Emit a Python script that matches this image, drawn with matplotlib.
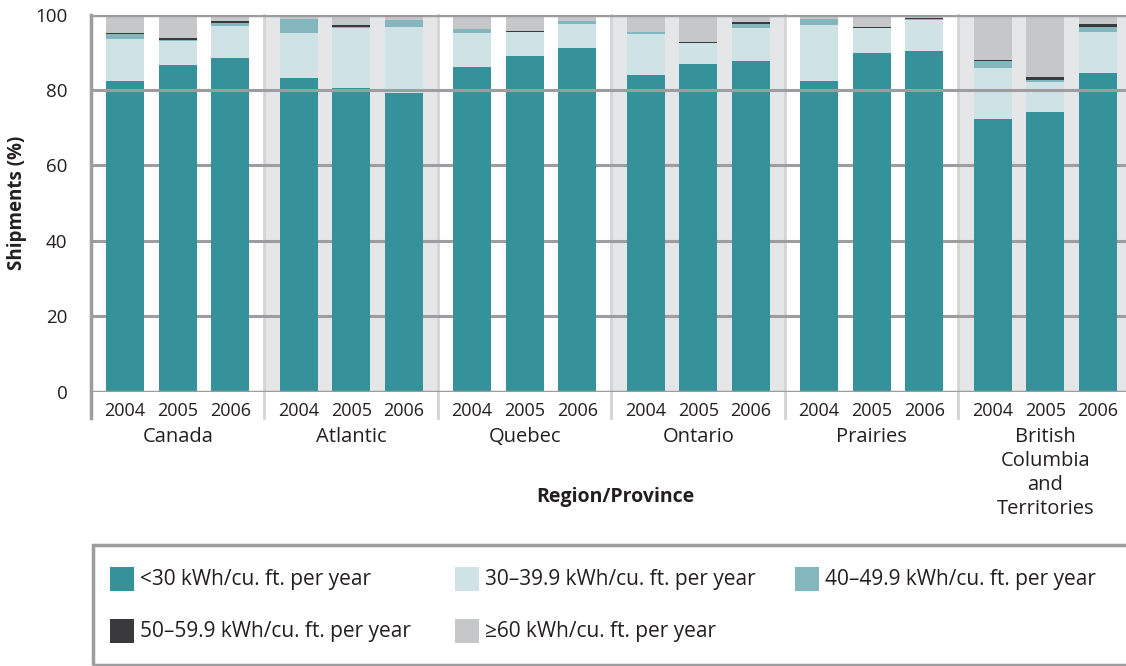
import numpy as np
import matplotlib
matplotlib.use('Agg')
import matplotlib.pyplot as plt
from matplotlib.patches import Rectangle
from matplotlib.transforms import blended_transform_factory

plt.rcParams['font.family'] = ['Open Sans', 'DejaVu Sans']

# Data (cumulative tops converted to shares)
regions = ['Canada', 'Atlantic', 'Quebec', 'Ontario', 'Prairies',
           'British\nColumbia\nand\nTerritories']
years = ['2004', '2005', '2006']
series = ['<30 kWh/cu. ft. per year', '30–39.9 kWh/cu. ft. per year',
          '40–49.9 kWh/cu. ft. per year', '50–59.9 kWh/cu. ft. per year',
          '≥60 kWh/cu. ft. per year']

lt30 = [82.4, 86.6, 88.5, 83.2, 80.5, 79.2, 86.1, 89.0, 91.1,
        84.0, 86.9, 87.7, 82.4, 89.8, 90.3, 72.3, 74.2, 84.5]
s30_39 = [11.1, 6.5, 8.5, 11.9, 15.8, 17.5, 9.0, 6.4, 6.4,
          10.8, 5.6, 8.7, 14.8, 6.6, 8.2, 13.5, 7.9, 10.9]
s40_49 = [1.3, 0.2, 0.8, 3.7, 0.3, 1.8, 1.1, 0.0, 0.8,
          0.6, 0.0, 1.1, 1.6, 0.0, 0.3, 1.9, 0.5, 1.3]
s50_59 = [0.4, 0.4, 0.5, 0.0, 0.6, 0.0, 0.0, 0.3, 0.0,
          0.0, 0.3, 0.5, 0.0, 0.3, 0.4, 0.2, 0.8, 0.8]
ge60 = [4.8, 6.3, 1.7, 1.2, 2.8, 1.5, 3.8, 4.3, 1.7,
        4.6, 7.2, 2.0, 1.2, 3.3, 0.8, 12.1, 16.6, 2.5]

colors = ['#36929a', '#cfe2e6', '#83b7bd', '#3a3a3c', '#c6c7c9']
grid_c = '#9d9d9f'
shade_c = '#e5e6e8'
text_c = '#231f20'

W, H = 1126, 666
fig = plt.figure(figsize=(W / 100, H / 100), dpi=100)
ax = fig.add_axes([91 / W, 1 - 392 / H, 1041 / W, 377.5 / H])

ng = len(regions)
offsets = np.array([-0.303, 0.0, 0.303])
xpos = np.concatenate([g + 0.5 + offsets for g in range(ng)])

# shaded alternate groups + separators
for g in range(ng):
    if g % 2 == 1:
        ax.axvspan(g, g + 1, color=shade_c, zorder=0, lw=0)
for g in range(1, ng):
    ax.axvline(g, ymin=-26 / 377.5, ymax=1, color='#d3d4d6', lw=2,
               clip_on=False, zorder=0.5)

# gridlines
for yv in [20, 40, 60]:
    ax.axhline(yv, color=grid_c, lw=2.2, zorder=1)
ax.axhline(80, color=grid_c, lw=2.2, zorder=4)
ax.axhline(100, color=grid_c, lw=2.5, zorder=4)
ax.axhline(0, color=grid_c, lw=2.5, zorder=4)
ax.axvline(0, ymin=-26 / 377.5, ymax=1, color=grid_c, lw=2.5,
           clip_on=False, zorder=4)

data = [lt30, s30_39, s40_49, s50_59, ge60]
bottom = np.zeros(len(xpos))
for vals, col, lab in zip(data, colors, series):
    vals = np.array(vals)
    ax.bar(xpos, vals, width=0.22, bottom=bottom, color=col, lw=0,
           label=lab, zorder=2)
    bottom += vals

ax.set_xlim(0, ng)
ax.set_ylim(0, 100)
for s in ax.spines.values():
    s.set_visible(False)
ax.set_yticks([0, 20, 40, 60, 80, 100])
ax.tick_params(axis='y', length=0, pad=17, labelsize=13.5, labelcolor=text_c)
ax.set_xticks(xpos)
ax.set_xticklabels(years * ng)
ax.tick_params(axis='x', length=0, pad=7, labelsize=13, labelcolor=text_c)

trans = blended_transform_factory(ax.transData, ax.transAxes)
for g, name in enumerate(regions):
    ax.text(g + 0.5, -0.094, name, transform=trans, ha='center', va='top',
            fontsize=14.5, color=text_c, linespacing=1.25)

ax.set_ylabel('Shipments (%)', fontsize=13.5, fontweight='bold', color=text_c)
ax.yaxis.set_label_coords(-0.061, 0.5)
fig.text(615 / W, 1 - 497 / H, 'Region/Province', ha='center',
         va='center', fontsize=14, fontweight='bold', color=text_c)

# legend box, drawn by hand to match the original layout
fig.patches.append(Rectangle((93 / W, 1 - 665 / H), 1040 / W, 120 / H,
                             transform=fig.transFigure, fill=False,
                             edgecolor=grid_c, lw=2.5))
leg_x = [110, 455, 795]
leg_y = [579, 631]
for i, (lab, col) in enumerate(zip(series, colors)):
    r, c = divmod(i, 3)
    x0, yc = leg_x[c], leg_y[r]
    fig.patches.append(Rectangle((x0 / W, 1 - (yc + 12) / H), 24 / W, 24 / H,
                                 transform=fig.transFigure, facecolor=col,
                                 edgecolor='none'))
    fig.text((x0 + 30) / W, 1 - (yc + 1) / H, lab, ha='left', va='center',
             fontsize=15, color=text_c)

fig.savefig('out.png', dpi=100)
